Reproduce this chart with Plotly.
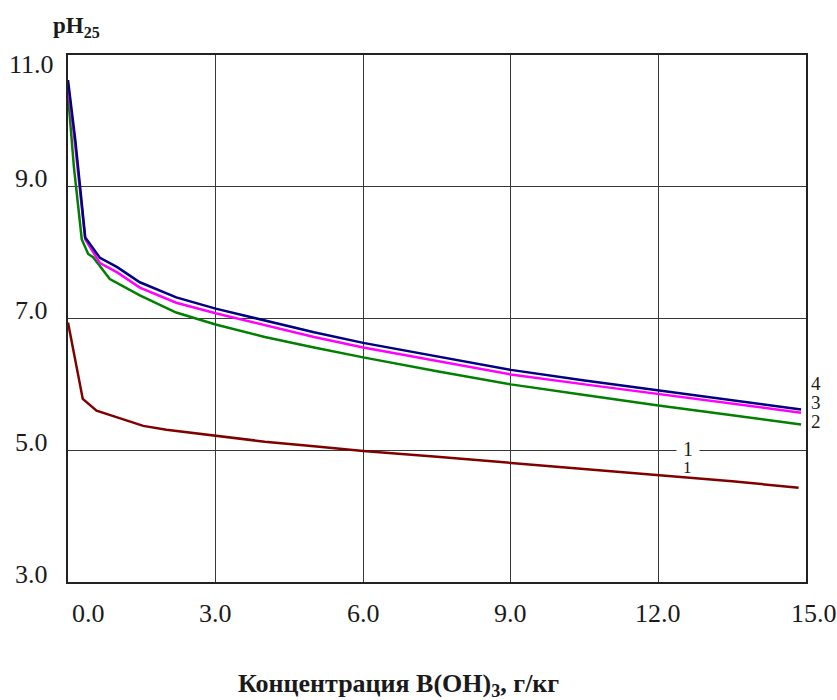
import plotly.graph_objects as go

# Concentration B(OH)3, g/kg  vs  pH25
x4 = [0.0, 0.15, 0.35, 0.65, 0.85, 1.0, 1.46, 2.2, 3.0, 4.0, 5.0, 6.0, 7.5, 9.0, 10.5, 11.6, 12.0, 13.5, 14.9]
y4 = [10.62, 9.7, 8.23, 7.92, 7.84, 7.78, 7.55, 7.32, 7.15, 6.97, 6.79, 6.63, 6.42, 6.22, 6.06, 5.95, 5.92, 5.77, 5.62]

x3 = [0.0, 0.15, 0.35, 0.65, 0.85, 1.0, 1.46, 2.2, 3.0, 4.0, 5.0, 6.0, 7.5, 9.0, 10.5, 11.6, 12.0, 13.5, 14.9]
y3 = [10.55, 9.6, 8.2, 7.84, 7.76, 7.7, 7.47, 7.24, 7.08, 6.9, 6.72, 6.56, 6.35, 6.15, 6.0, 5.89, 5.86, 5.71, 5.57]

x2 = [0.0, 0.12, 0.28, 0.41, 0.51, 0.85, 1.46, 2.2, 3.0, 4.0, 5.0, 6.0, 7.5, 9.0, 10.5, 11.6, 12.0, 13.5, 14.9]
y2 = [10.4, 9.3, 8.2, 7.98, 7.93, 7.6, 7.35, 7.09, 6.91, 6.72, 6.56, 6.41, 6.2, 6.0, 5.84, 5.72, 5.68, 5.53, 5.39]

x1 = [0.0, 0.3, 0.58, 1.0, 1.53, 2.0, 2.9, 4.0, 5.0, 6.0, 7.5, 9.0, 10.5, 11.6, 12.0, 13.5, 14.85]
y1 = [6.94, 5.78, 5.6, 5.5, 5.37, 5.31, 5.23, 5.13, 5.06, 4.99, 4.9, 4.81, 4.72, 4.65, 4.62, 4.53, 4.43]

x_ticks = [0, 3, 6, 9, 12, 15]
y_ticks = [3, 5, 7, 9, 11]

curve_names = ["1", "2", "3", "4"]
curve_colors = ["#800000", "#008000", "#FF00FF", "#000080"]
xs_all = [x1, x2, x3, x4]
ys_all = [y1, y2, y3, y4]

FONT = "Liberation Serif, Times New Roman, serif"
TXT = "#1a1a1a"

fig = go.Figure()
for xs, ys, col, name in zip(xs_all, ys_all, curve_colors, curve_names):
    fig.add_trace(go.Scatter(x=xs, y=ys, mode="lines", name=name,
                             line=dict(color=col, width=2.5), showlegend=False))

axis_common = dict(
    showgrid=True, gridcolor="#383838", gridwidth=1,
    showline=True, linecolor="#222222", linewidth=1.5, mirror=True,
    zeroline=False, ticks="", showticklabels=False,
)

fig.update_layout(
    width=837, height=700,
    margin=dict(l=68, r=31, t=55, b=118),
    paper_bgcolor="white", plot_bgcolor="white",
    xaxis=dict(range=[0, 15], tickvals=x_ticks, **axis_common),
    yaxis=dict(range=[3, 11], tickvals=y_ticks, **axis_common),
)

tick_font = dict(family=FONT, size=26, color=TXT)

# x tick labels
for v in x_ticks:
    shift = 20 if v == x_ticks[0] else (8 if v == x_ticks[-1] else 0)
    fig.add_annotation(x=v, xref="x", y=0, yref="paper", yshift=-31, xshift=shift,
                       text=f"{v:.1f}", showarrow=False, xanchor="center", yanchor="middle",
                       font=tick_font)

# y tick labels (centered at x ~ 31 px)
for v in y_ticks:
    shift = -9 if v == y_ticks[-1] else 8
    fig.add_annotation(x=(31 - 68) / 738, xref="paper", y=v, yref="y", yshift=shift,
                       text=f"{v:.1f}", showarrow=False, xanchor="center", yanchor="middle",
                       font=tick_font)

# curve labels on the right
for txt, yv in [("4", 6.02), ("3", 5.72), ("2", 5.43)]:
    fig.add_annotation(x=1.0, xref="paper", xanchor="left", xshift=3,
                       y=yv, yref="y", yanchor="middle",
                       text=txt, showarrow=False,
                       font=dict(family=FONT, size=19, color=TXT))

# the "1" labels inside the plot
fig.add_annotation(x=12.6, y=5.02, xref="x", yref="y", text="1", showarrow=False,
                   bgcolor="white", borderpad=0, width=22, height=16,
                   font=dict(family=FONT, size=20, color=TXT))
fig.add_annotation(x=12.6, y=4.75, xref="x", yref="y", text="1", showarrow=False,
                   height=14,
                   font=dict(family=FONT, size=17, color=TXT))

# y axis title
fig.add_annotation(x=(76 - 68) / 738, xref="paper", y=1, yref="paper", yshift=28,
                   text="<b>pH<sub>25</sub></b>", showarrow=False,
                   xanchor="center", yanchor="middle",
                   font=dict(family=FONT, size=23, color=TXT))

# x axis title
fig.add_annotation(x=(398 - 68) / 738, xref="paper", y=0, yref="paper", yshift=-(685 - 582),
                   text="<b>Концентрация B(OH)<sub>3</sub>, г/кг</b>", showarrow=False,
                   xanchor="center", yanchor="middle",
                   font=dict(family=FONT, size=26, color=TXT))

fig.write_html("out.html")
